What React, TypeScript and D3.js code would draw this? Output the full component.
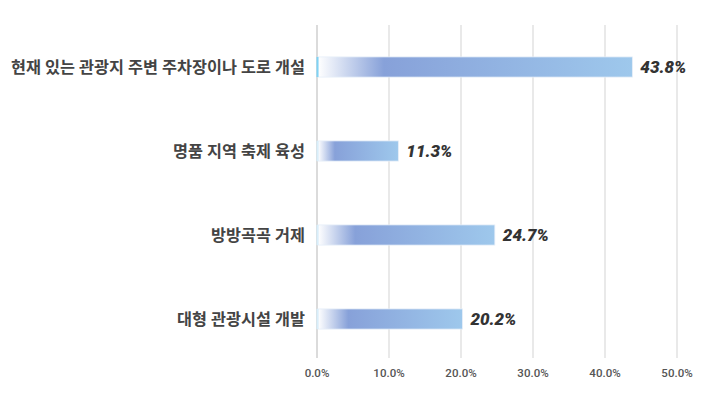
import React from "react";
import * as d3 from "d3";

const categories = [
  "현재 있는 관광지 주변 주차장이나 도로 개설",
  "명품 지역 축제 육성",
  "방방곡곡 거제",
  "대형 관광시설 개발",
];
const values = [43.8, 11.3, 24.7, 20.2];
const ticks = [0, 10, 20, 30, 40, 50];

const W = 710;
const H = 400;

export default function App() {
  const x = d3.scaleLinear().domain([0, 50]).range([317, 677]);
  const y = d3.scaleBand().domain(categories).range([25, 361]).paddingInner(0.76).paddingOuter(0.38);
  const font = "Roboto, 'Noto Sans CJK KR', sans-serif";
  return (
    <svg
      width={W}
      height={H}
      style={{ position: "absolute", left: 0, top: 0, background: "#fff" }}
      fontFamily={font}
    >
      <defs>
        <linearGradient id="barGrad" x1="0" x2="1" y1="0" y2="0">
          <stop offset="0" stopColor="#ffffff" />
          <stop offset="0.21" stopColor="#87a1d9" />
          <stop offset="1" stopColor="#9ec8ec" />
        </linearGradient>
      </defs>
      {ticks.map((t) => (
        <g key={t}>
          <line
            x1={x(t)}
            x2={x(t)}
            y1={25}
            y2={358}
            stroke={t === 0 ? "#cfcfcf" : "#e2e2e2"}
            strokeWidth={1.5}
          />
          <text
            x={x(t)}
            y={377}
            textAnchor="middle"
            fontSize={11.5}
            fontWeight={500}
            fill="#555"
          >
            {t.toFixed(1) + "%"}
          </text>
        </g>
      ))}
      {categories.map((c, i) => {
        const by = y(c)!;
        const bh = y.bandwidth();
        return (
          <g key={c}>
            <text
              x={305}
              y={by + bh / 2}
              dy="0.35em"
              textAnchor="end"
              fontSize={16.3}
              fontWeight={700}
              fill="#444"
            >
              {c}
            </text>
            <rect
              x={x(0) + 1}
              y={by}
              width={x(values[i]) - x(0) - 1}
              height={bh}
              fill="url(#barGrad)"
              stroke="#e6eef8"
              strokeWidth={0.8}
            />
            <rect x={x(0) - 0.5} y={by} width={2} height={bh} fill={i === 0 ? "#7fd3f5" : "#d8eefa"} />
            <text
              x={x(values[i]) + 8}
              y={by + bh / 2}
              dy="0.36em"
              fontSize={17}
              fontWeight={900}
              fontStyle="italic"
              fill="#333"
            >
              {values[i].toFixed(1) + "%"}
            </text>
          </g>
        );
      })}
    </svg>
  );
}
